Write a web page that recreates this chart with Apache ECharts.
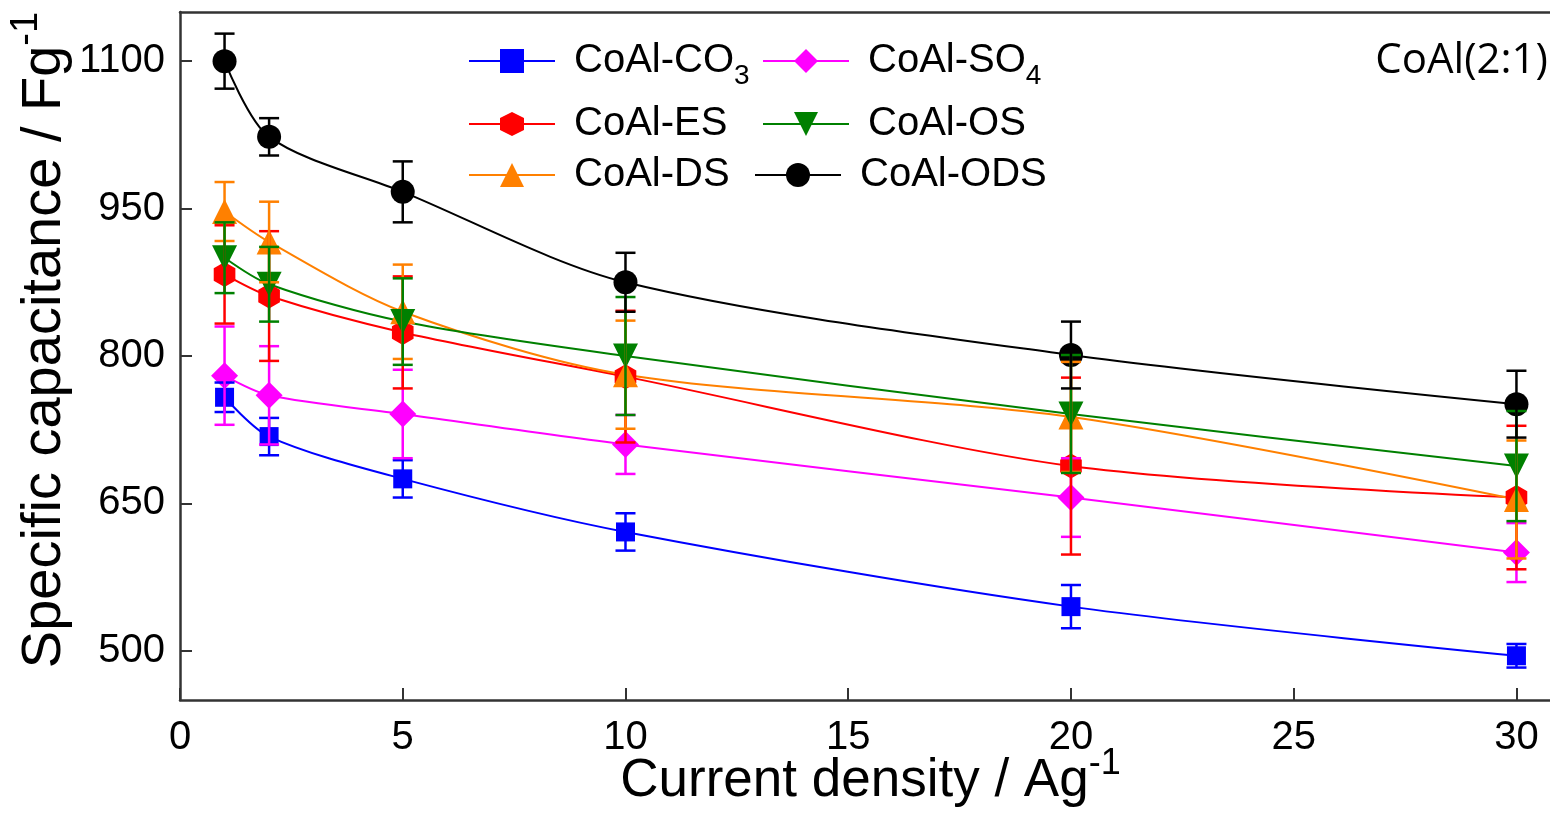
<!DOCTYPE html>
<html>
<head>
<meta charset="utf-8">
<script src="https://cdn.jsdelivr.net/npm/echarts@6/dist/echarts.min.js"></script>
<style>
  html, body { margin: 0; padding: 0; background: #fff; }
  #chart { width: 1550px; height: 813px; }
</style>
</head>
<body>
<div id="chart"></div>
<script>
// current density (A/g)
const currents = [1, 2, 5, 10, 20, 30];

// specific capacitance (F/g) and error for each sample
const co3 = [758, 718, 675, 621, 545, 495];
const co3Err = [15, 19, 19, 19, 22, 12];
const so4 = [780, 760, 741, 710, 656, 600];
const so4Err = [50, 50, 45, 30, 40, 30];
const es = [883, 861, 824, 779, 688, 656];
const esErr = [50, 66, 57, 67, 90, 73];
const os = [900, 873, 835, 800, 741, 688];
const osErr = [36, 38, 44, 60, 60, 56];
const ds = [947, 916, 845, 781, 738, 654];
const dsErr = [30, 41, 48, 55, 56, 60];
const ods = [1100, 1023, 967, 875, 801, 751];
const odsErr = [28, 19, 31, 30, 34, 34];

const xTicks = [0, 5, 10, 15, 20, 25, 30];
const yTicks = [500, 650, 800, 950, 1100];

const FONT = 'Liberation Sans';
const hexagon = 'path://M0,-1 L0.866,-0.5 L0.866,0.5 L0,1 L-0.866,0.5 L-0.866,-0.5 Z';

// name, values, errors, colour, symbol, size, rotate
const samples = [
  ['CoAl-CO3', co3, co3Err, '#0000ff', 'rect', 19, 0],
  ['CoAl-SO4', so4, so4Err, '#ff00ff', 'diamond', 27, 0],
  ['CoAl-ES', es, esErr, '#ff0000', hexagon, 25, 0],
  ['CoAl-DS', ds, dsErr, '#ff8000', 'triangle', 25, 0],
  ['CoAl-OS', os, osErr, '#008000', 'triangle', 25, 180],
  ['CoAl-ODS', ods, odsErr, '#000000', 'circle', 24, 0]
];

function errBars(color) {
  return function (params, api) {
    const x = api.value(0), y = api.value(1), e = api.value(2);
    const p1 = api.coord([x, y + e]);
    const p2 = api.coord([x, y - e]);
    const h = 10;
    const style = { stroke: color, lineWidth: 2.5 };
    return {
      type: 'group',
      children: [
        { type: 'line', shape: { x1: p1[0], y1: p1[1], x2: p2[0], y2: p2[1] }, style: style },
        { type: 'line', shape: { x1: p1[0] - h, y1: p1[1], x2: p1[0] + h, y2: p1[1] }, style: style },
        { type: 'line', shape: { x1: p2[0] - h, y1: p2[1], x2: p2[0] + h, y2: p2[1] }, style: style }
      ]
    };
  };
}

const series = [];
samples.forEach(function (s) {
  series.push({
    name: s[0],
    type: 'line',
    data: currents.map(function (c, i) { return [c, s[1][i]]; }),
    smooth: 0.3,
    symbol: s[4],
    symbolSize: s[5],
    symbolRotate: s[6],
    symbolKeepAspect: true,
    showAllSymbol: true,
    color: s[3],
    lineStyle: { color: s[3], width: 2 },
    itemStyle: { color: s[3] },
    z: 2
  });
});
// error bars go over the markers
samples.forEach(function (s) {
  series.push({
    name: s[0] + ' err',
    type: 'custom',
    renderItem: errBars(s[3]),
    data: currents.map(function (c, i) { return [c, s[1][i], s[2][i]]; }),
    encode: { x: 0, y: 1 },
    silent: true,
    z: 3
  });
});

const legendRich = {
  a: { fontSize: 40, fontFamily: FONT, color: '#000', padding: [0, 0, 0, 14] },
  s: { fontSize: 28, fontFamily: FONT, color: '#000', verticalAlign: 'bottom', padding: [30, 0, 0, 0] }
};
function legendText(name) {
  if (name === 'CoAl-CO3') return '{a|CoAl-CO}{s|3}';
  if (name === 'CoAl-SO4') return '{a|CoAl-SO}{s|4}';
  return '{a|' + name + '}';
}
function legendAt(name, left, top) {
  return {
    data: [name],
    left: left,
    top: top,
    itemWidth: 86,
    itemHeight: 30,
    padding: 0,
    formatter: legendText,
    textStyle: { rich: legendRich },
    selectedMode: false
  };
}

const supStyle = { fontSize: 36, fontFamily: FONT, color: '#000', verticalAlign: 'top', padding: [0, 0, 34, 0] };

const option = {
  animation: false,
  backgroundColor: '#fff',
  grid: { left: 180, top: 12, right: -11, bottom: 113, containLabel: false, outerBoundsMode: 'none' },
  legend: [
    legendAt('CoAl-CO3', 468, 41),
    legendAt('CoAl-SO4', 762, 41),
    legendAt('CoAl-ES', 468, 104),
    legendAt('CoAl-OS', 762, 104),
    legendAt('CoAl-DS', 468, 155),
    legendAt('CoAl-ODS', 754, 155)
  ],
  graphic: [{
    type: 'text',
    right: 2,
    top: 40,
    style: { text: 'CoAl(2:1)', font: '42px "Open Sans"', fill: '#000' }
  }],
  xAxis: [{
    type: 'value',
    min: 0,
    max: 31,
    position: 'bottom',
    name: 'Current density / Ag{p|-1}',
    nameLocation: 'middle',
    nameGap: 46,
    nameMoveOverlap: false,
    nameTextStyle: {
      fontSize: 53, fontFamily: FONT, color: '#000',
      rich: { p: supStyle }
    },
    axisLine: { show: true, onZero: false, lineStyle: { color: '#333', width: 2.5 } },
    axisTick: { show: true, inside: true, length: 12, customValues: xTicks, lineStyle: { color: '#333', width: 2 } },
    axisLabel: { customValues: xTicks, fontSize: 40, fontFamily: FONT, color: '#000', margin: 18 },
    splitLine: { show: false }
  }, {
    type: 'value',
    min: 0,
    max: 31,
    position: 'top',
    axisLine: { show: true, onZero: false, lineStyle: { color: '#333', width: 2.5 } },
    axisTick: { show: false },
    axisLabel: { show: false },
    splitLine: { show: false }
  }],
  yAxis: {
    type: 'value',
    min: 450,
    max: 1150,
    name: 'Specific capacitance / Fg{p|-1}',
    nameLocation: 'middle',
    nameGap: 98,
    nameMoveOverlap: false,
    nameTextStyle: {
      fontSize: 56, fontFamily: FONT, color: '#000',
      padding: [0, 0, 0, 32],
      rich: { p: { fontSize: 38, fontFamily: FONT, color: '#000', verticalAlign: 'top', padding: [0, 0, 36, 0] } }
    },
    axisLine: { show: true, onZero: false, lineStyle: { color: '#333', width: 2.5 } },
    axisTick: { show: true, inside: true, length: 12, customValues: yTicks, lineStyle: { color: '#333', width: 2 } },
    axisLabel: {
      customValues: yTicks, fontSize: 40, fontFamily: FONT, color: '#000', margin: 15,
      formatter: function (v) { return String(v); }
    },
    splitLine: { show: false }
  },
  series: series
};

const chart = echarts.init(document.getElementById('chart'));
chart.setOption(option);
</script>
</body>
</html>
